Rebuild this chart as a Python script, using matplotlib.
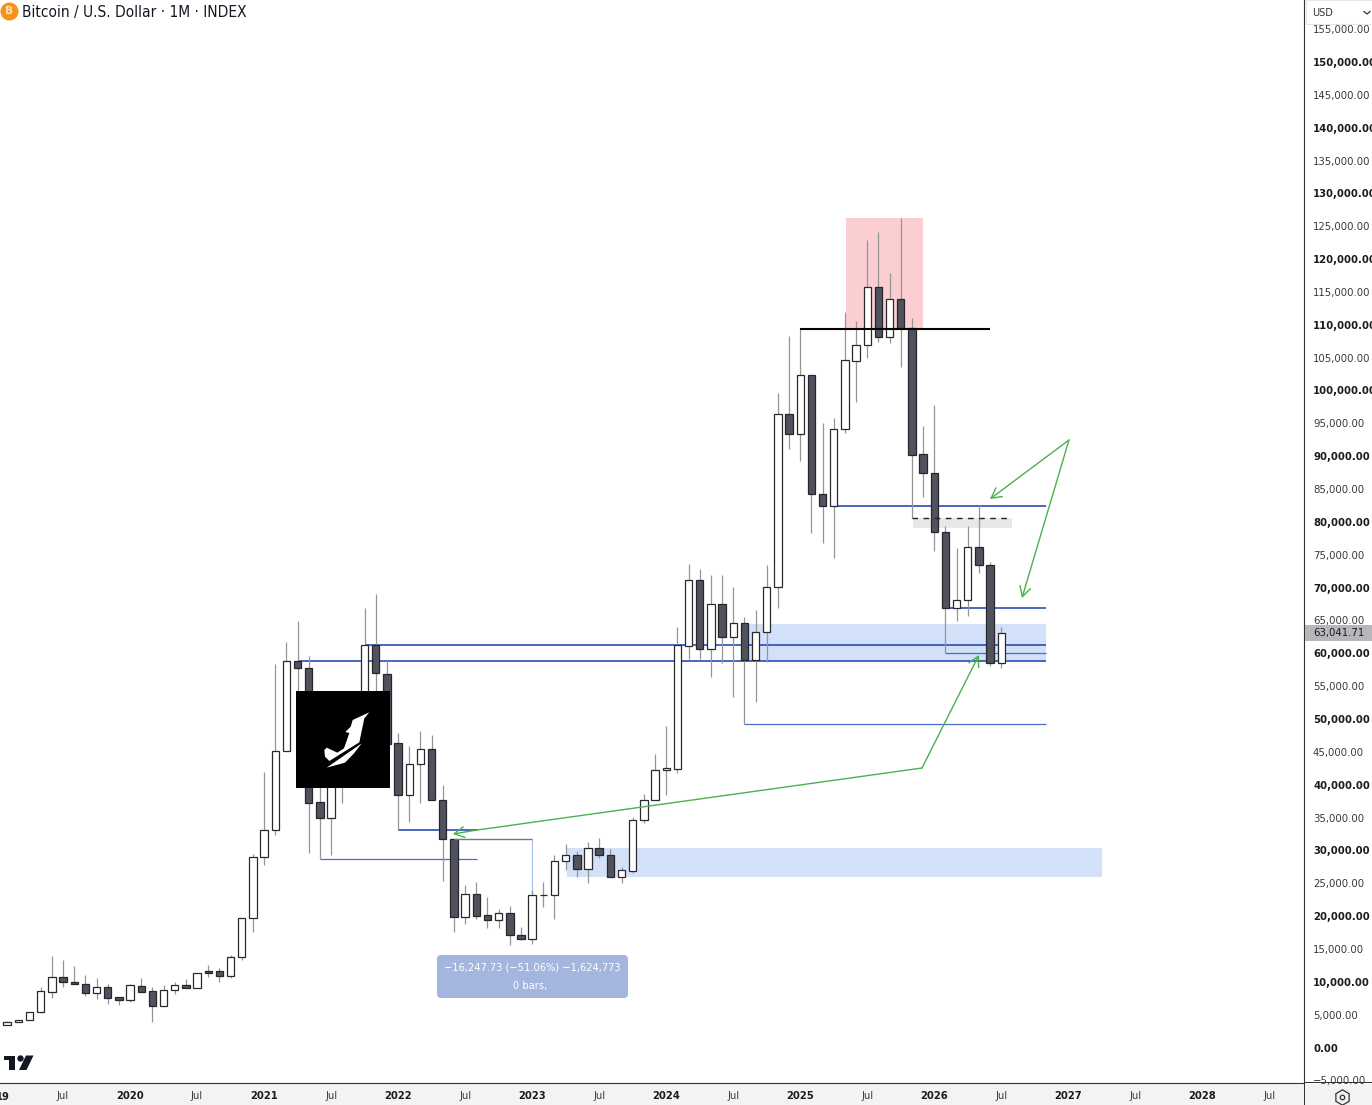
import matplotlib
matplotlib.use('Agg')
import matplotlib.pyplot as plt
from matplotlib.patches import Rectangle, Polygon, FancyBboxPatch
from matplotlib.transforms import IdentityTransform

# monthly candles, Feb 2019 onwards (month 0 = Jan 2019)
months = list(range(1, 91))
opens = [3424, 3835, 4140, 5357, 8493, 10730, 10015, 9620, 8250, 9160,
         7640, 7185, 9360, 8550, 6360, 8705, 9510, 9100, 11690, 11640,
         10835, 13775, 19665, 28950, 33105, 45130, 58780, 57760, 37320, 34975,
         41000, 47100, 43800, 61260, 56845, 46300, 38430, 43150, 45430, 37670,
         31735, 19910, 23315, 20120, 19405, 20515, 17170, 16470, 23165, 23165,
         28430, 29255, 27215, 30410, 29255, 25905, 26910, 34580, 37670, 42190,
         42435, 61110, 71200, 60605, 67455, 62525, 64610, 58930, 63285, 70135,
         96375, 93330, 102310, 84290, 82460, 94090, 104440, 106965, 115700, 108185,
         113875, 109460, 90285, 87395, 78505, 66890, 68065, 76220, 73435, 58475]
highs = [3988, 4140, 5357, 9208, 13970, 13320, 12400, 11035, 10620, 9665,
         7690, 9620, 10620, 9250, 9510, 10015, 10470, 11385, 12555, 12055,
         14080, 19755, 29405, 41975, 58370, 61715, 64960, 59585, 41475, 42000,
         50000, 52900, 66890, 68975, 58975, 47915, 45890, 48125, 47515, 39955,
         31735, 24735, 25235, 22860, 21035, 21535, 18385, 23970, 25235, 29255,
         30975, 29905, 31325, 31840, 30255, 27520, 35130, 38535, 44670, 48980,
         64045, 73590, 72780, 71915, 71915, 70040, 65570, 66590, 73435, 99570,
         108290, 109355, 102310, 95095, 95765, 111895, 110530, 122900, 124120, 117925,
         126205, 111075, 94590, 97790, 79370, 75980, 79370, 82570, 73940, 64045]
lows = [3379, 3835, 4140, 5251, 7490, 9160, 9590, 7840, 7380, 6670,
        6470, 6970, 8490, 3880, 6360, 8100, 9010, 9010, 10685, 10015,
        10530, 13365, 17535, 27775, 32340, 45130, 42235, 29650, 28690, 29300,
        37260, 40000, 43000, 53000, 42000, 33105, 34365, 37260, 37670, 25385,
        17625, 18795, 19560, 18235, 18235, 15600, 16360, 15750, 21340, 19605,
        27015, 25905, 24990, 28890, 25905, 24990, 26515, 34125, 37670, 38430,
        41825, 59130, 59130, 56435, 58565, 53390, 49235, 52630, 58720, 66845,
        91090, 89265, 78260, 76740, 74455, 93480, 98200, 104990, 107330, 107180,
        103620, 80590, 83830, 75565, 60000, 64960, 65675, 72265, 58065, 57715]
closes = [3881, 4140, 5357, 8554, 10730, 10015, 9620, 8250, 9160, 7580,
          7185, 9470, 8490, 6360, 8705, 9465, 9100, 11385, 11295, 10835,
          13820, 19665, 28950, 33105, 45175, 58780, 57760, 37260, 34975, 41000,
          47100, 43800, 61260, 56950, 46145, 38430, 43150, 45430, 37670, 31780,
          19910, 23315, 20060, 19405, 20515, 17125, 16470, 23165, 23135, 28430,
          29255, 27215, 30410, 29255, 25905, 26970, 34625, 37670, 42235, 42495,
          61260, 71200, 60605, 67455, 62525, 64610, 58930, 63285, 70135, 96375,
          93330, 102310, 84290, 82460, 94090, 104590, 106965, 115700, 108185, 113875,
          109460, 90180, 87395, 78505, 66890, 68065, 76220, 73435, 58475, 63040]

# drawings on the chart: (start month, end month, price)
blue_lines = [(75, 94, 82460), (85, 94, 66890), (33, 94, 61260), (27, 94, 58850), (36, 43.06, 33105)]
thin_blue_lines = [(85, 94, 60000), (67, 94, 49235), (29, 43.06, 28690)]

price_ticks = list(range(-5000, 155001, 5000))
xtick_months = list(range(6, 115, 6))
xtick_labels = ['Jul', '2020', 'Jul', '2021', 'Jul', '2022', 'Jul', '2023', 'Jul',
                '2024', 'Jul', '2025', 'Jul', '2026', 'Jul', '2027', 'Jul', '2028', 'Jul']

W, H = 1372, 1105
XMIN, XMAX = 0.358, 117.1
YMIN, YMAX = -5403, 159430
plt.rcParams['font.family'] = ['DejaVu Sans']
AXIS_FONT = dict(family='DejaVu Sans', stretch='condensed')


def fx(px):
    return px / W


def fy(py):
    return 1 - py / H


def fig_poly(fig, pts, color, zorder=6):
    fig.add_artist(Polygon([(fx(x), fy(y)) for x, y in pts], closed=True, facecolor=color,
                           edgecolor='none', transform=fig.transFigure, zorder=zorder))


fig = plt.figure(figsize=(W / 100, H / 100), dpi=100, facecolor='white')
ax = fig.add_axes([0, (H - 1083) / H, 1304 / W, 1083 / H])

# zones
ax.add_patch(Rectangle((76.1, 109356), 82.99 - 76.1, 126300 - 109356, color='#fbcfd2', lw=0, zorder=1))
ax.add_patch(Rectangle((67, 58850), 27, 64500 - 58850, color='#d2e0f8', lw=0, zorder=1))
ax.add_patch(Rectangle((51.1, 25950), 99 - 51.1, 30364 - 25950, color='#d2e0f8', lw=0, zorder=1))
ax.add_patch(Rectangle((82.07, 79100), 91 - 82.07, 1490, color='#e8e8e8', lw=0, zorder=1))

# horizontal levels under the candles
ax.hlines(109356, 72, 89, color='black', lw=1.5, zorder=4)
ax.hlines(80590, 82, 91, color='#222222', lw=1.0, linestyles=(0, (4, 4)), zorder=4)
for x0, x1, price in blue_lines:
    ax.hlines(price, x0, x1, color='#2a4db5', lw=1.2, zorder=2)
for x0, x1, price in thin_blue_lines:
    ax.hlines(price, x0, x1, color='#4a6cc4', lw=0.9, zorder=2)

# candles
body_bottom = [min(o, c) for o, c in zip(opens, closes)]
body_height = [abs(c - o) for o, c in zip(opens, closes)]
fills = ['white' if c >= o else '#50535e' for o, c in zip(opens, closes)]
edges = ['#2a2a2a' if c >= o else '#26272c' for o, c in zip(opens, closes)]
ax.vlines(months, lows, highs, color='#959595', lw=0.9, zorder=3)
ax.bar(months, body_height, bottom=body_bottom, width=0.66, color=fills, edgecolor=edges, linewidth=0.9, zorder=3)

# measure tool
ax.hlines(31780, 41, 48, color='#777777', lw=1.0, zorder=4)
ax.vlines(48, 16100, 31780, color='#a9c4f0', lw=0.9, zorder=2)
ax.annotate('', xy=(48, 15900), xytext=(48, 17500),
            arrowprops=dict(arrowstyle='->', color='#a9c4f0', lw=0.8), zorder=2)

# green arrows
green = '#4caf50'
arrow = dict(arrowstyle='->,head_length=0.55,head_width=0.3', color=green, lw=1.0, mutation_scale=13, shrinkA=0, shrinkB=0)
ax.plot([82.9, 43.06], [42540, 33100], color=green, lw=1.0, zorder=5)
ax.annotate('', xy=(40.9, 32495), xytext=(43.06, 33100), arrowprops=arrow, zorder=5)
ax.annotate('', xy=(88, 59739), xytext=(82.9, 42540), arrowprops=arrow, zorder=5)
ax.annotate('', xy=(88.99, 83480), xytext=(96.06, 92459), arrowprops=arrow, zorder=5)
ax.annotate('', xy=(91.85, 68405), xytext=(96.06, 92459), arrowprops=arrow, zorder=5)

# axes look
for side in ['top', 'left']:
    ax.spines[side].set_visible(False)
ax.spines['right'].set_color('#333333')
ax.spines['bottom'].set_color('#333333')
ax.yaxis.tick_right()
ax.set_yticks(price_ticks)
ax.set_yticklabels([f'{p:,.2f}'.replace('-', '\u2212') for p in price_ticks], fontsize=8.1, **AXIS_FONT)
ax.tick_params(axis='y', length=0, pad=6.5)
for p, lab in zip(price_ticks, ax.get_yticklabels()):
    if p % 10000 == 0:
        lab.set_fontweight('bold')
        lab.set_color('#1c1c1c')
    else:
        lab.set_color('#3a3a3a')
ax.set_xticks(xtick_months)
ax.set_xticklabels(xtick_labels, fontsize=8.0, **AXIS_FONT)
ax.tick_params(axis='x', length=0, pad=5.5)
for lab in ax.get_xticklabels():
    if lab.get_text() != 'Jul':
        lab.set_fontweight('bold')
        lab.set_color('#1c1c1c')
    else:
        lab.set_color('#3a3a3a')
# set_xticks can widen the view, so the limits go last
ax.set_xlim(XMIN, XMAX)
ax.set_ylim(YMIN, YMAX)

# first year label sits half off the left edge
fig.text(fx(3), fy(1096.5), '19', fontsize=8.0, fontweight='bold', color='#1c1c1c', ha='center', va='center', **AXIS_FONT)

# strips and widgets in pixel positions
fig.add_artist(Rectangle((0, 0), 1, (H - 1084) / H, facecolor='#f3f3f3', edgecolor='none',
                         transform=fig.transFigure, zorder=-1))
fig.add_artist(Rectangle((fx(1304), fy(1105)), 1 / W, 22 / H, facecolor='#333333', edgecolor='none',
                         transform=fig.transFigure, zorder=6))
fig.add_artist(Rectangle((fx(1304), fy(1083)), 68 / W, 1 / H, facecolor='#333333', edgecolor='none',
                         transform=fig.transFigure, zorder=6))

# USD box
fig.add_artist(Rectangle((fx(1305.5), fy(24)), 67 / W, 24 / H, facecolor='white', edgecolor='#e6e6e6', lw=0.8,
                         transform=fig.transFigure, zorder=6))
fig.text(fx(1312), fy(12.5), 'USD', fontsize=7.8, color='#333333', va='center', zorder=7, **AXIS_FONT)
fig.add_artist(plt.Line2D([fx(1364), fx(1367), fx(1370)], [fy(11.5), fy(14), fy(11.5)], color='#333333', lw=0.9,
                          transform=fig.transFigure, zorder=7))

# last price tag
fig.add_artist(Rectangle((fx(1305), fy(641)), 67 / W, 16 / H, facecolor='#b5b7bd', edgecolor='none',
                         transform=fig.transFigure, zorder=6))
fig.text(fx(1313), fy(633), f'{closes[-1] + 1.71:,.2f}', fontsize=8.1, color='#1c1c1c', va='center', zorder=7, **AXIS_FONT)

# title
fig.add_artist(plt.Line2D([fx(9)], [fy(11)], marker='o', ms=13, mfc='#f7931a', mec='none', transform=fig.transFigure, zorder=6))
fig.text(fx(9), fy(11), 'B', fontsize=7.5, fontweight='bold', color='#fde3c0', ha='center', va='center', zorder=7)
fig.text(fx(22), fy(12), 'Bitcoin / U.S. Dollar \u00b7 1M \u00b7 INDEX', fontsize=11.05, color='#131722',
         va='center', zorder=7, **AXIS_FONT)

# measure label
fig.add_artist(FancyBboxPatch((437, H - 998), 191, 43, boxstyle='round,pad=0,rounding_size=4',
                              facecolor='#a4b5de', edgecolor='none', transform=IdentityTransform(), zorder=6))
fig.text(fx(532.5), fy(967), '\u221216,247.73 (\u221251.06%) \u22121,624,773', fontsize=7.9, color='white',
         ha='center', va='center', zorder=7, **AXIS_FONT)
fig.text(fx(530), fy(986), '0 bars,', fontsize=7.9, color='white', ha='center', va='center', zorder=7, **AXIS_FONT)

# logo block
fig.add_artist(Rectangle((fx(296), fy(788)), 94 / W, 97 / H, facecolor='black', edgecolor='none',
                         transform=fig.transFigure, zorder=6))
zx = lambda z: 230 + z / 3
zy = lambda z: 580 + z / 3
j_upper = [(418, 397), (368, 420), (362, 440), (346, 456), (358, 459), (342, 505), (322, 518), (290, 503),
           (283, 510), (285, 530), (298, 543), (388, 487), (403, 415)]
j_lower = [(395, 490), (290, 563), (345, 548), (372, 520)]
fig_poly(fig, [(zx(a), zy(b)) for a, b in j_upper], 'white', zorder=7)
fig_poly(fig, [(zx(a), zy(b)) for a, b in j_lower], 'white', zorder=7)

# TV logo
fig_poly(fig, [(4, 1055.5), (15, 1055.5), (15, 1070), (8.5, 1070), (8.5, 1060), (4, 1060)], '#131722')
fig_poly(fig, [(26, 1055.5), (33.5, 1055.5), (26.5, 1070), (19, 1070)], '#131722')
fig.add_artist(plt.Line2D([fx(20)], [fy(1058.3)], marker='o', ms=4.6, mfc='#131722', mec='none',
                          transform=fig.transFigure, zorder=6))

# settings icon
fig.add_artist(plt.Line2D([fx(1342)], [fy(1097)], marker='h', ms=11, mfc='none', mec='#333333', mew=0.9,
                          transform=fig.transFigure, zorder=7))
fig.add_artist(plt.Line2D([fx(1342)], [fy(1097)], marker='o', ms=3.2, mfc='none', mec='#333333', mew=0.9,
                          transform=fig.transFigure, zorder=7))

fig.savefig('out.png', dpi=100)
